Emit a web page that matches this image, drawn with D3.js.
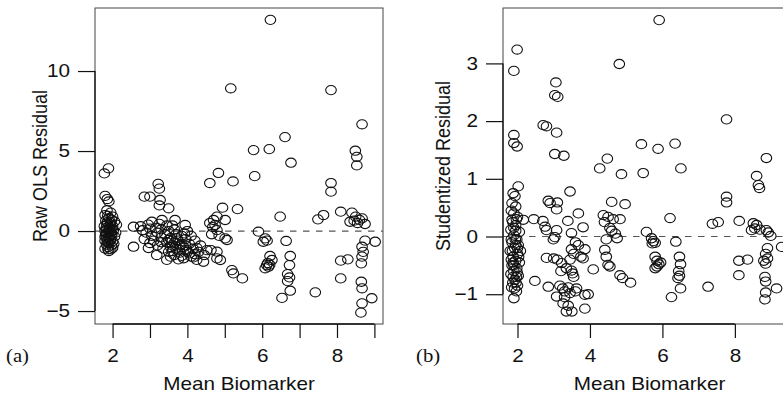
<!DOCTYPE html>
<html>
<head>
<meta charset="utf-8">
<script src="https://cdn.jsdelivr.net/npm/d3@7"></script>
<style>
  body { margin: 0; background: #fff; }
  svg { display: block; }
  text { font-family: "Liberation Sans", Arial, Helvetica, sans-serif; fill: #111; }
</style>
</head>
<body>
<svg id="chart" width="783" height="398"></svg>
<script>
// [mean biomarker, raw OLS residual]
var rawPoints = [
  [1.89,3.92],[1.78,3.6],[1.80,2.2],[1.86,2.0],[1.90,1.85],
  [1.85,1.3],[1.95,1.15],[1.80,1.0],[2.00,0.9],[1.90,0.8],[1.82,0.65],[2.05,0.6],[1.95,0.5],[1.85,0.4],[1.78,0.3],
  [2.00,0.3],[1.92,0.2],[1.85,0.1],[2.02,0.05],[1.80,0.0],[1.95,-0.05],[1.88,-0.1],[1.98,-0.2],[1.82,-0.25],[1.92,-0.3],
  [2.05,-0.35],[1.85,-0.45],[1.95,-0.5],[1.80,-0.6],[2.00,-0.65],[1.90,-0.75],[1.84,-0.85],[1.97,-0.9],[1.88,-1.0],
  [1.80,-1.1],[1.95,-1.15],[1.90,-1.25],[2.10,0.4],[2.08,-0.1],[1.86,0.55],[1.93,-0.55],[1.83,-0.15],[1.99,0.15],
  [1.87,0.95],[1.97,0.7],[1.83,0.2],[1.90,-0.4],[2.03,-0.8],[1.86,-0.65],[1.94,0.35],[1.80,-0.35],[2.00,-1.05],
  [1.92,0.05],[1.88,-1.15],[1.96,-0.25],
  [2.56,0.27],[2.56,-0.98],[2.85,2.15],[3.0,2.15],[3.22,2.95],[3.25,2.65],[3.27,1.94],[3.25,1.6],[3.5,1.42],
  [2.75,0.3],[2.8,0.05],[2.9,-0.1],[2.95,0.4],[3.0,0.15],[3.05,-0.3],[3.05,0.58],[3.1,-0.6],[3.15,0.2],[3.2,-0.1],
  [3.2,-0.9],[3.25,0.45],[3.3,-0.4],[3.32,0.69],[3.3,0.1],[3.35,-1.1],[3.4,-0.2],[3.45,-0.7],[3.5,0.0],[3.5,-1.3],
  [3.55,-0.45],[3.6,0.35],[3.6,-0.9],[3.65,-1.5],[3.7,-0.2],[3.7,-1.1],[3.67,0.69],[3.75,-0.6],[3.8,-1.35],[3.8,-0.9],
  [3.85,-0.3],[3.9,-1.7],[3.9,-1.0],[3.94,0.38],[3.95,-0.5],[4.0,0.0],[4.0,-1.3],[4.05,-0.8],[4.1,-1.6],[4.1,-0.3],
  [4.15,-1.1],[4.2,-0.6],[4.25,-1.8],[4.3,-1.3],[4.35,-0.9],[4.43,-1.92],[4.45,-1.5],[3.0,-0.75],[2.85,-0.5],[3.18,-1.5],
  [3.55,-1.6],[3.45,0.35],[3.65,0.1],[3.85,-1.55],[4.16,-1.65],[3.3,-0.7],[3.6,-1.25],[3.95,-1.2],[4.2,-1.45],[3.76,-1.77],
  [3.45,-1.8],[3.55,-1.0],[2.96,-1.06],[4.52,-1.19],
  [3.6,-0.6],[3.72,-0.45],[3.85,-0.8],[3.95,-0.9],[4.05,-1.4],[3.65,-0.75],[3.78,-1.15],[3.5,-0.55],[3.92,-0.15],[4.25,-1.05],
  [4.6,3.0],[4.83,3.63],[4.94,1.46],[5.34,1.37],[4.79,0.9],[4.7,0.69],[5.01,0.69],[4.6,0.5],[4.74,0.38],[4.68,0.25],
  [4.79,0.06],[4.65,-0.2],[4.85,-0.3],[5.01,-0.46],[5.06,-0.56],[4.63,-1.19],[4.79,-1.29],[4.79,-1.71],[4.88,-1.81],
  [5.19,-2.44],[5.23,-2.65],[5.47,-2.96],[5.16,8.92],[5.22,3.1],
  [6.22,13.2],[5.77,5.06],[6.19,5.12],[6.61,5.87],[6.77,4.27],[5.8,3.43],[6.48,0.9],[5.9,-0.04],[6.08,-0.46],[6.03,-0.67],
  [6.13,-0.6],[6.64,-0.62],[6.21,-1.56],[6.26,-1.81],[6.12,-2.13],[6.17,-2.23],[6.08,-2.33],[6.15,-2.0],[6.2,-2.1],
  [6.75,-1.56],[6.73,-2.13],[6.68,-2.69],[6.73,-2.9],[6.68,-3.13],[6.75,-3.73],[6.53,-4.18],
  [7.42,-3.83],[7.49,0.73],[7.64,1.0],[7.84,8.81],[7.84,3.0],[7.84,2.46],[8.67,6.67],[8.49,5.02],[8.53,4.64],[8.53,4.1],
  [8.1,1.21],[8.4,1.15],[8.46,0.65],[8.67,0.79],[8.75,0.44],[8.35,0.58],[8.5,0.9],[8.55,0.5],[8.1,-1.85],[8.29,-1.77],
  [8.1,-2.96],[8.75,-0.6],[9.02,-0.67],[8.67,-0.98],[8.67,-1.6],[8.65,-2.02],[8.65,-3.17],[8.67,-3.58],[8.93,-4.2],
  [8.67,-4.52],[8.64,-5.1],[8.7,-1.3],[8.6,0.7]
];

// [mean biomarker, studentized residual]
var studPoints = [
  [1.99,3.24],[1.9,2.87],[1.9,1.76],[1.9,1.62],[1.99,1.56],
  [2.02,0.87],[1.88,0.75],[1.93,0.7],[1.85,0.58],[1.95,0.52],[1.9,0.4],[2.0,0.34],[1.85,0.29],[2.16,0.29],[1.95,0.2],
  [1.82,0.12],[2.05,0.08],[1.9,0.02],[1.98,-0.05],[1.85,-0.1],[2.02,-0.15],[1.92,-0.2],[1.8,-0.25],[2.0,-0.3],[1.88,-0.35],
  [1.95,-0.42],[2.05,-0.45],[1.85,-0.5],[1.98,-0.55],[1.9,-0.6],[1.82,-0.65],[2.02,-0.68],[1.93,-0.75],[1.87,-0.8],
  [2.0,-0.85],[1.92,-0.9],[1.97,-0.95],[1.9,-1.07],[1.95,0.1],[1.88,-0.45],[2.08,-0.25],[1.83,0.45],[1.97,-0.7],
  [1.87,0.25],[1.97,0.3],[1.83,-0.05],[1.95,-0.15],[2.03,-0.35],[1.86,-0.25],[1.9,-0.5],[1.99,-0.62],[1.84,-0.88],
  [1.94,-0.05],[1.9,0.15],[2.0,-0.2],[1.88,-0.7],[1.96,-0.8],[1.83,-0.4],
  [2.45,0.3],[2.48,-0.77],[2.7,0.27],[2.71,1.93],[2.8,1.91],[2.76,0.17],[2.8,0.11],[2.8,-0.37],[2.85,0.62],[2.85,-0.87],
  [2.9,0.58],[3.06,2.67],[3.03,2.45],[3.11,2.42],[3.08,1.8],[3.03,1.43],[3.28,1.4],[3.1,0.59],[3.08,0.47],[3.08,0.11],
  [3.03,-0.01],[2.99,-0.05],[3.0,-0.38],[3.1,-0.4],[3.08,-1.04],[3.17,-0.85],[3.22,-0.46],[3.26,-1.16],[3.25,-0.9],
  [3.3,-0.95],[3.39,0.27],[3.35,-0.55],[3.45,0.78],[3.49,0.06],[3.49,-0.22],[3.45,-0.4],[3.49,-0.59],[3.52,-0.64],
  [3.55,-0.7],[3.45,-0.98],[3.4,-0.88],[3.5,-1.3],[3.55,-0.3],[3.6,-0.1],[3.63,-0.9],[3.68,0.4],[3.68,-0.15],[3.75,-0.35],
  [3.81,0.16],[3.81,-0.38],[3.86,-0.22],[3.86,-1.01],[3.86,-1.25],[3.95,-1.0],[3.4,-1.2],[3.35,-1.3],[3.6,-0.95],
  [3.3,-1.05],[3.2,-0.6],
  [4.09,-0.57],[4.27,1.18],[4.48,1.35],[4.81,2.99],[4.87,1.08],[4.6,0.6],[4.97,0.56],[4.37,0.37],[4.5,0.34],[4.64,0.3],
  [4.4,0.25],[4.55,0.15],[4.7,0.05],[4.75,-0.03],[4.41,-0.23],[4.45,-0.35],[4.5,-0.49],[4.55,-0.52],[4.83,-0.67],
  [4.9,-0.72],[5.12,-0.8],[4.83,0.3],[4.6,0.1],[4.45,-0.05],
  [5.91,3.75],[5.42,1.6],[5.88,1.52],[6.35,1.61],[6.51,1.18],[5.47,1.1],[6.21,0.32],[5.56,0.08],[5.7,-0.03],[5.75,-0.08],
  [5.8,-0.11],[5.72,-0.12],[6.37,-0.09],[5.8,-0.35],[5.85,-0.42],[5.9,-0.48],[5.85,-0.52],[5.8,-0.55],[5.95,-0.45],
  [6.47,-0.35],[6.5,-0.48],[6.45,-0.6],[6.47,-0.68],[6.43,-0.72],[6.5,-0.9],[6.25,-1.05],
  [7.26,-0.87],[7.38,0.22],[7.54,0.25],[7.77,2.03],[7.77,0.69],[7.77,0.59],[8.11,-0.42],[8.35,-0.4],[8.11,-0.67],
  [8.12,0.27],[8.51,0.23],[8.55,0.14],[8.46,0.11],[8.69,0.12],[8.87,0.11],[8.92,0.07],[8.99,0.01],[8.6,1.05],[8.65,0.89],
  [8.68,0.84],[8.87,1.36],[9.29,-0.18],[8.9,-0.2],[8.85,-0.3],[8.9,-0.38],[8.85,-0.47],[8.8,-0.42],[8.83,-0.7],
  [8.85,-0.78],[9.15,-0.9],[8.85,-0.97],[8.83,-1.09],[8.6,0.2]
];

// ticks and labels
var rawXTicks = [2, 3, 4, 5, 6, 7, 8, 9];
var rawXLabels = [2, 4, 6, 8];
var rawYTicks = [-5, 0, 5, 10];
var studXTicks = [2, 4, 6, 8];
var studXLabels = [2, 4, 6, 8];
var studYTicks = [-1, 0, 1, 2, 3];

var xTitle = "Mean Biomarker";
var rawYTitle = "Raw OLS Residual";
var studYTitle = "Studentized Residual";

var svg = d3.select("#chart");
var plotTop = 8, plotBottom = 324;
var stretch = 1.15; // the source figure is a little wider than tall

var panels = [
  {points: rawPoints, left: 95, right: 383, xDomain: [1.53, 9.23], yDomain: [-5.81, 13.94],
   xTicks: rawXTicks, xLabels: rawXLabels, yTicks: rawYTicks, yTitle: rawYTitle,
   tag: "(a)", tagX: 6, yTitleX: 47},
  {points: studPoints, left: 503, right: 796, xDomain: [1.6, 9.687], yDomain: [-1.516, 3.96],
   xTicks: studXTicks, xLabels: studXLabels, yTicks: studYTicks, yTitle: studYTitle,
   tag: "(b)", tagX: 416, yTitleX: 450}
];

panels.forEach(function(p) {
    var x = d3.scaleLinear().domain(p.xDomain).range([p.left, p.right]);
    var y = d3.scaleLinear().domain(p.yDomain).range([plotBottom, plotTop]);

    // frame
    svg.append("rect")
        .attr("x", p.left).attr("y", plotTop)
        .attr("width", p.right - p.left).attr("height", plotBottom - plotTop)
        .attr("fill", "none").attr("stroke", "#444").attr("stroke-width", 1);

    // zero reference line
    svg.append("line")
        .attr("x1", p.left).attr("x2", p.right)
        .attr("y1", y(0)).attr("y2", y(0))
        .attr("stroke", "#555").attr("stroke-width", 1.2)
        .attr("stroke-dasharray", "6.5,6.5");

    svg.append("g")
        .selectAll("ellipse")
        .data(p.points)
        .join("ellipse")
        .attr("cx", function(d) { return x(d[0]); })
        .attr("cy", function(d) { return y(d[1]); })
        .attr("rx", 5.3).attr("ry", 4.6)
        .attr("fill", "none").attr("stroke", "#111").attr("stroke-width", 1.1);

    // x axis
    var gx = svg.append("g")
        .attr("transform", "translate(0," + plotBottom + ")")
        .call(d3.axisBottom(x).tickValues(p.xTicks).tickSize(14).tickPadding(11)
            .tickFormat(function(d) { return p.xLabels.indexOf(d) >= 0 ? d3.format("d")(d) : ""; }));
    gx.attr("font-size", 18).attr("font-family", null);
    gx.select(".domain").remove();
    gx.selectAll(".tick line").attr("stroke", "#111").attr("stroke-width", 1.2);
    gx.selectAll(".tick text").attr("fill", "#111").attr("transform", "scale(" + stretch + ",1)");
    gx.append("line")
        .attr("x1", x(p.xTicks[0])).attr("x2", x(p.xTicks[p.xTicks.length - 1]))
        .attr("stroke", "#111").attr("stroke-width", 1.3);

    // y axis
    var gy = svg.append("g")
        .attr("transform", "translate(" + p.left + ",0)")
        .call(d3.axisLeft(y).tickValues(p.yTicks).tickSize(17).tickPadding(8).tickFormat(d3.format("d")));
    gy.attr("font-size", 18).attr("font-family", null);
    gy.select(".domain").remove();
    gy.selectAll(".tick line").attr("stroke", "#111").attr("stroke-width", 1.2);
    gy.selectAll(".tick text").attr("fill", "#111")
        .attr("x", -25 / stretch)
        .attr("transform", "scale(" + stretch + ",1)");
    gy.append("line")
        .attr("y1", y(p.yTicks[0])).attr("y2", y(p.yTicks[p.yTicks.length - 1]))
        .attr("stroke", "#111").attr("stroke-width", 1.3);

    // titles
    svg.append("text")
        .attr("transform", "translate(" + ((p.left + p.right) / 2) + ",390) scale(" + stretch + ",1)")
        .attr("text-anchor", "middle").attr("font-size", 18)
        .text(xTitle);

    svg.append("text")
        .attr("transform", "translate(" + p.yTitleX + "," + ((plotTop + plotBottom) / 2) + ") scale(" + stretch + ",1) rotate(-90)")
        .attr("text-anchor", "middle").attr("font-size", 18)
        .text(p.yTitle);

    svg.append("text")
        .attr("transform", "translate(" + p.tagX + ",362) scale(" + stretch + ",1)")
        .style("font-family", "'Liberation Serif', 'Times New Roman', serif")
        .attr("font-size", 18)
        .text(p.tag);
});
</script>
</body>
</html>
